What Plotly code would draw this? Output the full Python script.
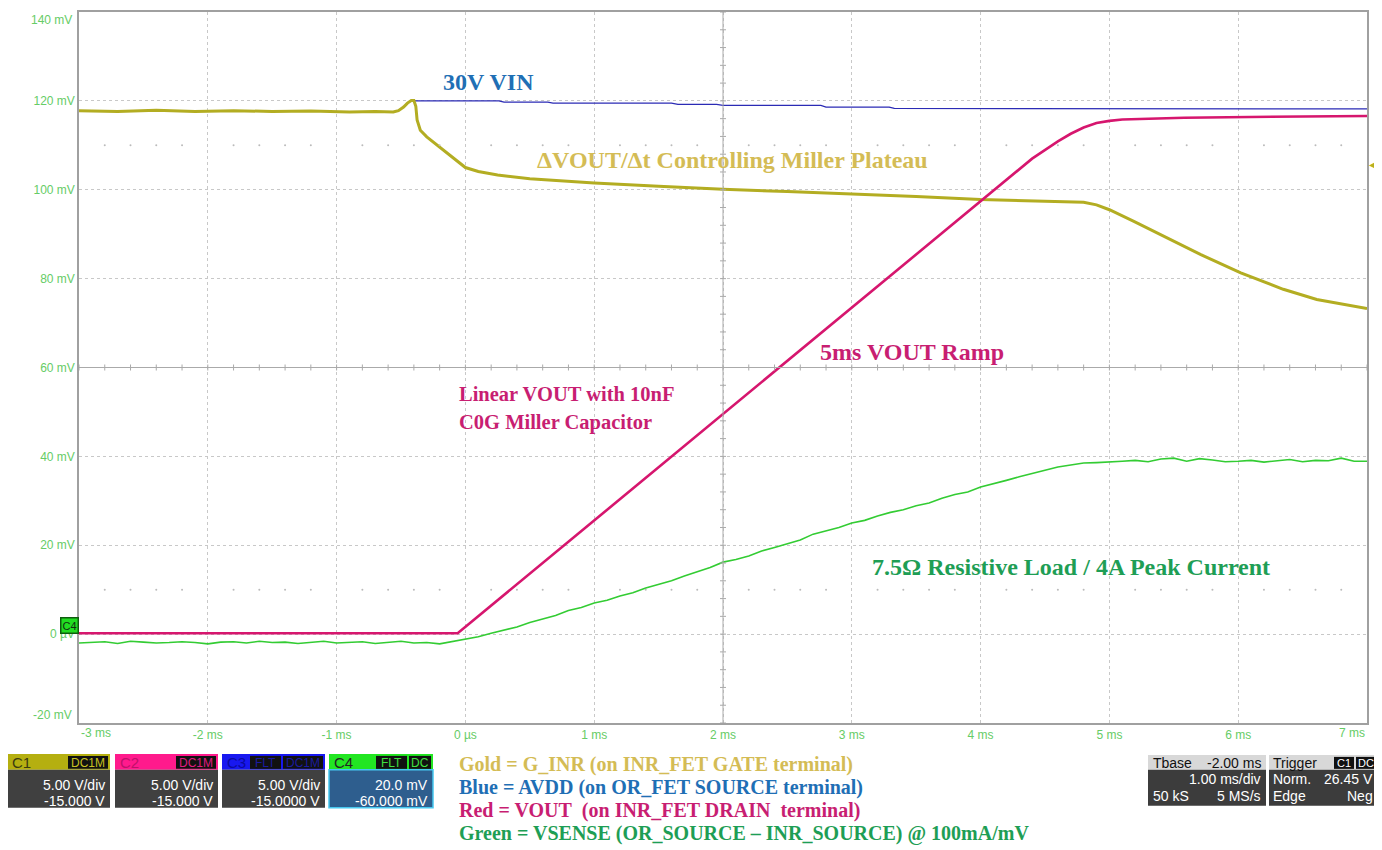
import plotly.graph_objects as go
import numpy as np

# ---------------- data ----------------
# time axis in ms, values in displayed mV
x_ticks = [-2, -1, 0, 1, 2, 3, 4, 5, 6]
x_ticktext = ["-2 ms", "-1 ms", "0 µs", "1 ms", "2 ms", "3 ms", "4 ms", "5 ms", "6 ms"]
y_ticks = [0, 20, 40, 60, 80, 100, 120]
y_ticktext = ["0 µV", "20 mV", "40 mV", "60 mV", "80 mV", "100 mV", "120 mV"]

gold_t = [-3.0, -2.7, -2.4, -2.1, -1.8, -1.5, -1.2, -0.9, -0.7, -0.56, -0.52, -0.48, -0.45,
          -0.42, -0.40, -0.385, -0.375, -0.35, -0.30, -0.27, -0.20, -0.14, -0.07, 0.0, 0.1,
          0.25, 0.5, 0.84, 1.0, 1.5, 2.0, 2.5, 3.0, 3.5, 4.0, 4.54, 4.8, 4.9, 5.0, 5.19,
          5.45, 5.71, 6.02, 6.35, 6.61, 7.0]
gold_v = [117.8, 117.6, 117.9, 117.6, 117.8, 117.6, 117.7, 117.5, 117.6, 117.5, 117.8, 118.6, 119.5,
          120.1, 120.1, 118.8, 115.7, 113.4, 111.9, 111.2, 109.6, 108.2, 106.5, 105.0, 104.1,
          103.3, 102.5, 101.8, 101.5, 100.8, 100.1, 99.6, 99.1, 98.5, 97.8, 97.5, 97.2, 96.6, 95.5, 92.9,
          89.1, 85.4, 81.3, 77.6, 75.3, 73.3]

blue_t = [-0.41, 0.26, 0.30, 0.64, 0.68, 1.60, 1.65, 1.95, 2.00, 2.76, 2.80, 3.29, 3.33, 5.0, 7.0]
blue_v = [120.0, 120.0, 119.7, 119.7, 119.5, 119.5, 119.2, 119.2, 119.0, 119.0, 118.6, 118.6, 118.3, 118.3, 118.2]

red_t = [-3.0, -0.06, 4.40, 4.50, 4.60, 4.70, 4.80, 4.90, 5.00, 5.10, 5.58, 6.50, 7.0]
red_v = [0.2, 0.2, 107.0, 109.0, 110.9, 112.6, 114.0, 115.0, 115.5, 115.8, 116.2, 116.5, 116.6]

green_t = [-3.0, -2.9, -2.8, -2.7, -2.6, -2.5, -2.4, -2.3, -2.2, -2.1, -2.0, -1.9, -1.8, -1.7,
           -1.6, -1.5, -1.4, -1.3, -1.2, -1.1, -1.0, -0.9, -0.8, -0.7, -0.6, -0.5, -0.4, -0.3,
           -0.2, -0.1, 0.0, 0.1, 0.2, 0.3, 0.4, 0.5, 0.6, 0.7, 0.8, 0.9, 1.0, 1.1, 1.2, 1.3,
           1.4, 1.5, 1.6, 1.7, 1.8, 1.9, 2.0, 2.1, 2.2, 2.3, 2.4, 2.5, 2.6, 2.7, 2.8, 2.9,
           3.0, 3.1, 3.2, 3.3, 3.4, 3.5, 3.6, 3.7, 3.8, 3.9, 4.0, 4.1, 4.2, 4.3, 4.4, 4.5,
           4.6, 4.7, 4.8, 4.9, 5.0, 5.1, 5.2, 5.3, 5.4, 5.5, 5.6, 5.7, 5.8, 5.9, 6.0, 6.1,
           6.2, 6.3, 6.4, 6.5, 6.6, 6.7, 6.8, 6.9, 7.0]
green_v = [-2.0, -1.8, -1.7, -2.1, -1.6, -1.8, -2.0, -1.9, -1.7, -1.9, -2.2, -1.8, -1.7, -2.0,
           -1.6, -1.9, -1.8, -2.1, -1.8, -1.6, -2.0, -1.9, -1.7, -2.1, -1.8, -1.6, -2.0, -1.9,
           -2.2, -1.7, -1.2, -0.6, 0.2, 0.9, 1.6, 2.6, 3.4, 4.2, 5.3, 6.0, 7.0, 7.6, 8.6, 9.3,
           10.4, 11.2, 12.0, 13.1, 14.0, 15.0, 16.2, 16.8, 17.6, 18.7, 19.5, 20.4, 21.2, 22.5, 23.2, 24.0,
           25.0, 25.6, 26.6, 27.4, 28.0, 28.9, 29.5, 30.6, 31.4, 32.0, 33.1, 33.8, 34.6, 35.4, 36.2, 36.9,
           37.6, 38.0, 38.5, 38.6, 38.7, 38.9, 39.1, 38.8, 39.4, 39.6, 38.9, 39.5, 39.2, 38.8, 38.9, 39.1,
           38.7, 39.0, 39.3, 38.8, 39.1, 39.0, 39.6, 38.9, 38.9]

legend_lines = [
    ("Gold = G_INR (on INR_FET GATE terminal)", "#D4BC55"),
    ("Blue = AVDD (on OR_FET SOURCE terminal)", "#1F6FB5"),
    ("Red = VOUT  (on INR_FET DRAIN  terminal)", "#C81E72"),
    ("Green = VSENSE (OR_SOURCE – INR_SOURCE) @ 100mA/mV", "#1E9E55"),
]

# ---------------- layout geometry ----------------
# page body has an 8px margin, so the figure is placed at (8, 8)
OFF = 8
W, H = 1382 - OFF, 850 - OFF
L, R, T, B = 79, 1367, 10, 723          # plot area in window pixels
PW, PH = R - L, B - T


def px(x):
    return (x - L) / PW


def py(y):
    return (B - y) / PH


fig = go.Figure()
fig.add_trace(go.Scatter(x=green_t, y=green_v, mode="lines", line=dict(color="#33CC33", width=1.6), showlegend=False))
fig.add_trace(go.Scatter(x=blue_t, y=blue_v, mode="lines", line=dict(color="#2B2BB5", width=1.3), showlegend=False))
fig.add_trace(go.Scatter(x=gold_t, y=gold_v, mode="lines", line=dict(color="#B3AD22", width=3), showlegend=False))
fig.add_trace(go.Scatter(x=red_t, y=red_v, mode="lines", line=dict(color="#D6166E", width=2.6), showlegend=False))

# grid decoration: dotted rows at 110 mV and 10 mV
dot_x = [v for v in np.round(np.arange(-2.8, 7.0, 0.2), 2) if abs(v - round(v)) > 1e-6]
fig.add_trace(go.Scatter(x=dot_x * 2, y=[110] * len(dot_x) + [10] * len(dot_x), mode="markers",
                         marker=dict(size=2, color="#BBBBBB"), showlegend=False, hoverinfo="skip"))

shapes = []
# center crosshair (2 ms, 60 mV)
shapes.append(dict(type="line", xref="x", yref="y", x0=2, x1=2, y0=-20, y1=140, line=dict(color="#AAAAAA", width=1)))
shapes.append(dict(type="line", xref="x", yref="y", x0=-3, x1=7, y0=60, y1=60, line=dict(color="#AAAAAA", width=1)))
for yv in np.arange(-20, 140.1, 4):
    shapes.append(dict(type="line", xref="x", yref="y", xsizemode="pixel", xanchor=2, x0=-3, x1=3,
                       y0=yv, y1=yv, line=dict(color="#AAAAAA", width=1)))
for xv in np.arange(-3, 7.01, 0.2):
    shapes.append(dict(type="line", xref="x", yref="y", ysizemode="pixel", yanchor=60, y0=-3, y1=3,
                       x0=xv, x1=xv, line=dict(color="#AAAAAA", width=1)))

annotations = []
tick_font = dict(family="Liberation Sans, Arial", size=12, color="#66CC66")
annotations.append(dict(xref="x", yref="paper", x=-3, y=py(733), text="-3 ms", showarrow=False,
                        xanchor="left", yanchor="middle", font=tick_font))
annotations.append(dict(xref="x", yref="paper", x=7, y=py(733), text="7 ms", showarrow=False,
                        xanchor="right", yanchor="middle", font=tick_font))
annotations.append(dict(xref="paper", yref="paper", x=px(74), y=py(18), text="140 mV", showarrow=False,
                        xanchor="right", yanchor="middle", font=tick_font))
annotations.append(dict(xref="paper", yref="paper", x=px(74), y=py(715), text="-20 mV", showarrow=False,
                        xanchor="right", yanchor="middle", font=tick_font))

serif = "Liberation Serif, Times New Roman, serif"


def note(text, x, y, color, size, anchor="left"):
    annotations.append(dict(xref="paper", yref="paper", x=px(x), y=py(y), text=text, showarrow=False,
                            xanchor=anchor, yanchor="middle", font=dict(family=serif, size=size, color=color)))


note("<b>30V VIN</b>", 441, 80, "#1F6FB5", 24)
note("<b>ΔVOUT/Δt Controlling Miller Plateau</b>", 535, 158, "#D4BC55", 24)
note("<b>5ms VOUT Ramp</b>", 818, 351, "#C81E72", 24)
note("<b>Linear VOUT with 10nF</b>", 457, 393, "#C81E72", 20.5)
note("<b>C0G Miller Capacitor</b>", 457, 422, "#C81E72", 20.5)
note("<b>7.5Ω Resistive Load / 4A Peak Current</b>", 870, 567, "#1E9E55", 24)
for i, (txt_, col) in enumerate(legend_lines):
    note("<b>" + txt_.replace("  ", "&nbsp; ") + "</b>", 457, 765 + i * 22.8, col, 20)

# C4 marker and C1 offset arrow
annotations.append(dict(xref="paper", yref="paper", x=px(69.5), y=py(625), text="C4", showarrow=False,
                        xanchor="center", yanchor="middle", bgcolor="#22DD22", bordercolor="#0E5E0E",
                        borderwidth=1.5, borderpad=1, font=dict(family="Liberation Sans", size=11, color="#103010")))
annotations.append(dict(xref="paper", yref="paper", x=px(1379), y=py(162), text="◀", showarrow=False,
                        xanchor="right", yanchor="middle", font=dict(size=10, color="#B8B020")))

sans = "Liberation Sans, Arial"


def rect(x0, x1, y0, y1, fill, line_color=None, lw=0):
    shapes.append(dict(type="rect", xref="paper", yref="paper", x0=px(x0), x1=px(x1), y0=py(y1), y1=py(y0),
                       fillcolor=fill, line=dict(color=line_color or fill, width=lw), layer="above"))


def txt(s, x, y, color, size=14, anchor="left"):
    annotations.append(dict(xref="paper", yref="paper", x=px(x), y=py(y), text=s, showarrow=False,
                            xanchor=anchor, yanchor="middle", font=dict(family=sans, size=size, color=color)))


channels = [
    (7, 110, "#B5AF10", "C1", "#3A3A10", [("DC1M", "#C8C020")], "#404040", None, "5.00 V/div", "-15.000 V"),
    (115, 218, "#FF1A8C", "C2", "#C0106A", [("DC1M", "#E01A80")], "#404040", None, "5.00 V/div", "-15.000 V"),
    (222, 325, "#1818F0", "C3", "#0A0AA0", [("FLT", "#1A1AA0"), ("DC1M", "#1A1AA0")], "#404040", None, "5.00 V/div", "-15.0000 V"),
    (329, 433, "#22E622", "C4", "#222222", [("FLT", "#40E040"), ("DC", "#40E040")], "#2E5E8E", "#46C8F0", "20.0 mV", "-60.000 mV"),
]
for x0, x1, hc, lab, labc, badges, body, border, l1, l2 in channels:
    rect(x0, x1, 754, 770, hc)
    rect(x0, x1, 770, 808, body, border, 1.5 if border else 0)
    txt(lab, x0 + 3, 763, labc, 15)
    bx = x1 - 2
    for bt, bc in reversed(badges):
        bw = 9 * len(bt) + 4
        rect(bx - bw, bx, 756, 769, "#111111")
        txt(bt, bx - bw / 2, 763, bc, 12, "center")
        bx -= bw + 2
    txt(l1, x1 - 3, 785, "#FFFFFF", 14, "right")
    txt(l2, x1 - 3, 801, "#FFFFFF", 14, "right")

# timebase box
rect(1148, 1266, 755, 770, "#D8D8D8")
rect(1148, 1266, 770, 806, "#3C3C3C")
txt("Tbase", 1151, 763, "#111111", 14)
txt("-2.00 ms", 1263, 763, "#111111", 14, "right")
txt("1.00 ms/div", 1263, 779, "#FFFFFF", 14, "right")
txt("50 kS", 1151, 796, "#FFFFFF", 14)
txt("5 MS/s", 1263, 796, "#FFFFFF", 14, "right")
# trigger box
rect(1269, 1377, 755, 770, "#D8D8D8")
rect(1269, 1377, 770, 806, "#3C3C3C")
txt("Trigger", 1271, 763, "#111111", 14)
rect(1334, 1354, 757, 769, "#111111")
txt("C1", 1344, 763, "#FFFFFF", 11, "center")
rect(1356, 1375, 757, 769, "#111111")
txt("DC", 1365.5, 763, "#FFFFFF", 11, "center")
txt("Norm.", 1271, 779, "#FFFFFF", 14)
txt("26.45 V", 1375, 779, "#FFFFFF", 14, "right")
txt("Edge", 1271, 796, "#FFFFFF", 14)
txt("Neg", 1375, 796, "#FFFFFF", 14, "right")

fig.update_layout(
    width=W, height=H,
    margin=dict(l=L - OFF, r=(W + OFF) - R, t=T - OFF, b=(H + OFF) - B),
    paper_bgcolor="white", plot_bgcolor="white",
    showlegend=False,
    shapes=shapes, annotations=annotations,
    xaxis=dict(range=[-3, 7], tickvals=x_ticks, ticktext=x_ticktext, showgrid=True,
               gridcolor="#C8C8C8", griddash="dot", gridwidth=1, zeroline=False,
               showline=True, linecolor="#A0A0A0", linewidth=1.5, mirror=True,
               ticks="", tickfont=tick_font, fixedrange=True),
    yaxis=dict(range=[-20, 140], tickvals=y_ticks, ticktext=y_ticktext, showgrid=True,
               gridcolor="#C8C8C8", griddash="dot", gridwidth=1, zeroline=False,
               showline=True, linecolor="#A0A0A0", linewidth=1.5, mirror=True,
               ticks="", tickfont=tick_font, fixedrange=True),
)

fig.write_html("out.html")
